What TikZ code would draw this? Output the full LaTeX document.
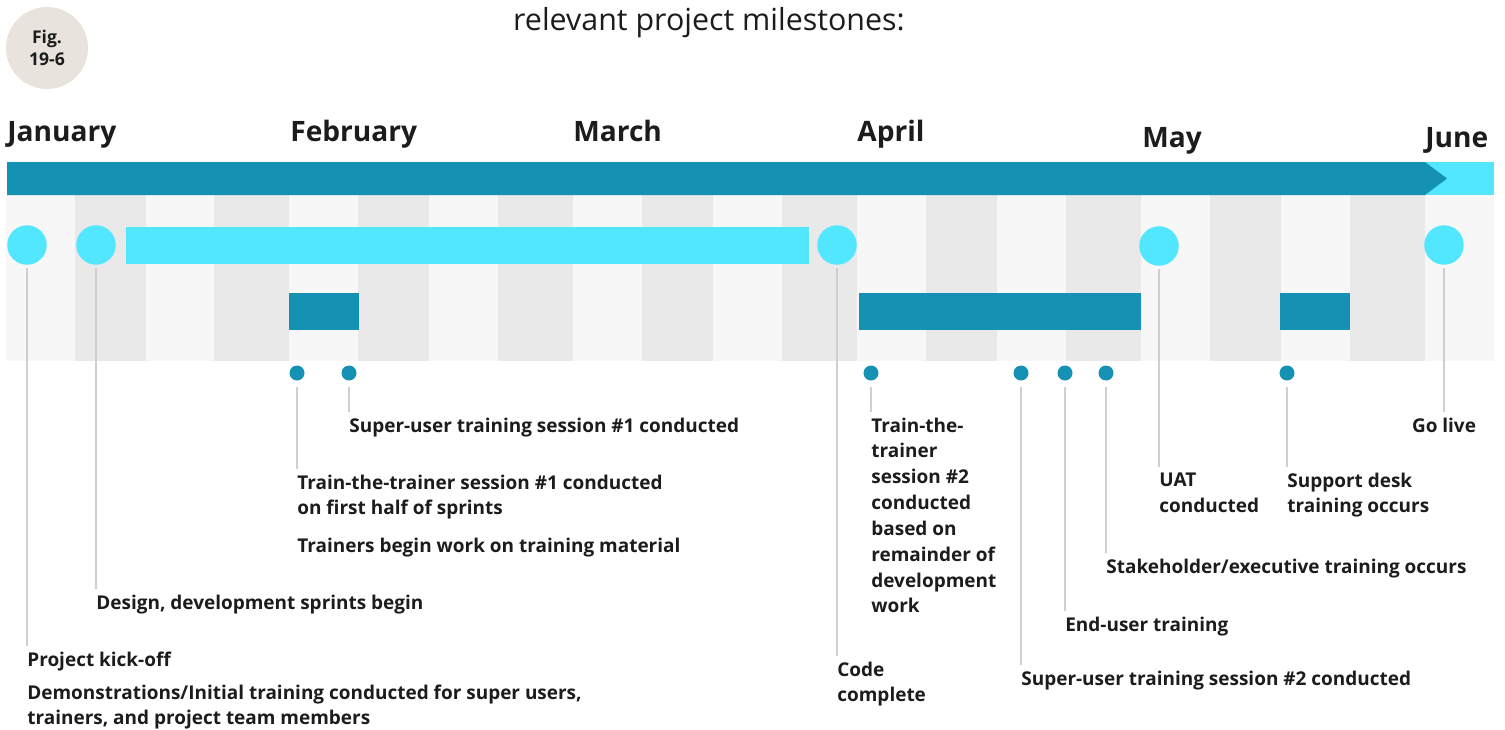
\documentclass[tikz,border=0pt]{standalone}
\usepackage{fontspec}
\setmainfont{Open Sans}
\usepackage{tikz}

\definecolor{tealbar}{HTML}{1592B3}
\definecolor{cyanbar}{HTML}{52E6FF}
\definecolor{colgray}{HTML}{E9E9E9}
\definecolor{collight}{HTML}{F7F7F7}
\definecolor{leader}{HTML}{CFCFCF}
\definecolor{figbg}{HTML}{E8E3DC}
\definecolor{ink}{HTML}{1C1C1C}

\begin{document}
\begin{tikzpicture}[x=0.02cm, y=-0.02cm, text=ink,
	marco/.style={circle, fill=cyanbar, minimum size=0.79cm, inner sep=0pt},
	ponto/.style={circle, fill=tealbar, minimum size=0.3cm, inner sep=0pt},
	rotulo/.style={anchor=north west, align=left, inner xsep=0pt, inner ysep=3pt, font=\bfseries\fontsize{10.8}{14.7}\selectfont},
	mes/.style={anchor=base west, inner sep=0pt, font=\bfseries\fontsize{16}{19}\selectfont},
	guia/.style={draw=leader, line width=0.8pt, shorten <=1.5pt}
	]
	\useasboundingbox (0,0) rectangle (1505,730);

	% week columns
	\fill[collight] (6,195) rectangle (1494,361);
	\foreach \a/\b in {75/146, 214/289, 358/429, 498/573, 642/713, 782/857, 926/997, 1066/1141, 1210/1281, 1350/1425}
		\fill[colgray] (\a,195) rectangle (\b,361);

	% title and figure badge
	\node[anchor=base, font=\fontsize{17.3}{20}\selectfont] (titulo) at (709,31) {relevant project milestones:};
	\node[circle, fill=figbg, minimum size=1.64cm, inner sep=0pt, align=center, font=\bfseries\fontsize{10}{12.5}\selectfont] (fig) at (47,48) {Fig.\\19-6};

	% months
	\node[mes] (jan) at (7,141) {January};
	\node[mes] (feb) at (290,141) {February};
	\node[mes] (mar) at (573,141) {March};
	\node[mes] (apr) at (857,141) {April};
	\node[mes] (may) at (1142,147) {May};
	\node[mes] (jun) at (1425,147) {June};

	% main bar
	\fill[cyanbar] (1425,162) rectangle (1494,195);
	\fill[tealbar] (7,162) -- (1425,162) -- (1447,178.5) -- (1425,195) -- (7,195) -- cycle;

	% phases
	\fill[cyanbar] (126,227) rectangle (809,264);
	\fill[tealbar] (289,293) rectangle (359,330);
	\fill[tealbar] (859,293) rectangle (1141,330);
	\fill[tealbar] (1280,293) rectangle (1350,330);

	% milestones
	\node[marco] (kickoff) at (27,245) {};
	\node[marco] (design) at (96,245) {};
	\node[marco] (code) at (837,245) {};
	\node[marco] (uat) at (1159,246) {};
	\node[marco] (golive) at (1444,245) {};

	\node[ponto] (ttt1) at (297,373) {};
	\node[ponto] (su1) at (349,373) {};
	\node[ponto] (ttt2) at (871,373) {};
	\node[ponto] (su2) at (1021,373) {};
	\node[ponto] (enduser) at (1065,373) {};
	\node[ponto] (stake) at (1106,373) {};
	\node[ponto] (support) at (1287,373) {};

	% labels
	\node[rotulo] (kickoff-lbl) at (27,646) {Project kick-off\\[4pt]Demonstrations/Initial training conducted for super users,\\trainers, and project team members};
	\node[rotulo] (design-lbl) at (96,589) {Design, development sprints begin};
	\node[rotulo] (ttt1-lbl) at (297,469) {Train-the-trainer session \#1 conducted\\on first half of sprints\\[6.8pt]Trainers begin work on training material};
	\node[rotulo] (su1-lbl) at (349,412) {Super-user training session \#1 conducted};
	\node[rotulo] (code-lbl) at (837,656) {Code\\complete};
	\node[rotulo] (ttt2-lbl) at (871,412) {Train-the-\\trainer\\session \#2\\conducted\\based on\\remainder of\\development\\work};
	\node[rotulo] (su2-lbl) at (1021,665) {Super-user training session \#2 conducted};
	\node[rotulo] (enduser-lbl) at (1065,611) {End-user training};
	\node[rotulo] (stake-lbl) at (1106,553) {Stakeholder/executive training occurs};
	\node[rotulo] (uat-lbl) at (1159,467) {UAT\\conducted};
	\node[rotulo] (support-lbl) at (1287,467) {Support desk\\training occurs};
	\node[rotulo, anchor=north] (golive-lbl) at (1444,412) {Go live};

	\draw[guia] (kickoff) -- (kickoff-lbl.north west);
	\draw[guia] (design) -- (design-lbl.north west);
	\draw[guia] (code) -- (code-lbl.north west);
	\draw[guia] (uat) -- (uat-lbl.north west);
	\draw[guia] (golive) -- (golive-lbl.north);
	\draw[guia, shorten <=3.4pt] (ttt1) -- (ttt1-lbl.north west);
	\draw[guia, shorten <=3.4pt] (su1) -- (su1-lbl.north west);
	\draw[guia, shorten <=3.4pt] (ttt2) -- (ttt2-lbl.north west);
	\draw[guia, shorten <=3.4pt] (su2) -- (su2-lbl.north west);
	\draw[guia, shorten <=3.4pt] (enduser) -- (enduser-lbl.north west);
	\draw[guia, shorten <=3.4pt] (stake) -- (stake-lbl.north west);
	\draw[guia, shorten <=3.4pt] (support) -- (support-lbl.north west);
\end{tikzpicture}
\end{document}
